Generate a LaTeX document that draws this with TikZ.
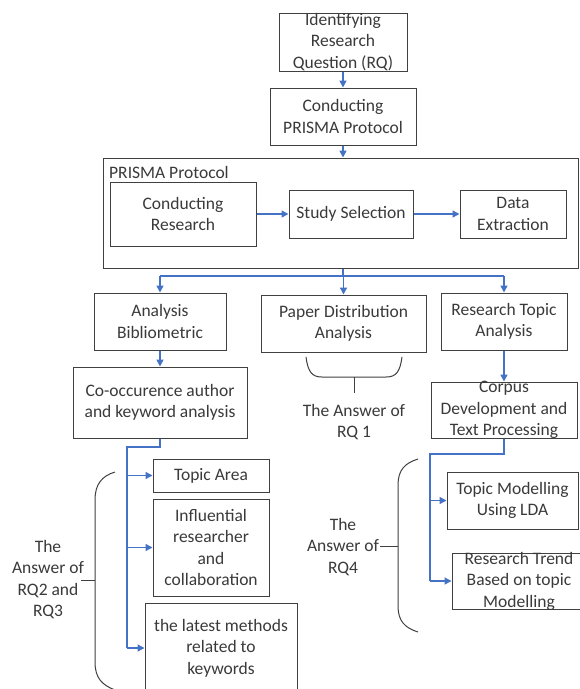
\documentclass[tikz,border=0pt]{standalone}
\usepackage{fontspec}
\setmainfont{Carlito}
\usetikzlibrary{arrows.meta}
\definecolor{arrowblue}{HTML}{4472C4}
\definecolor{boxgray}{HTML}{404040}
\definecolor{txtgray}{HTML}{3A3A3A}
\tikzset{
  box/.style={draw=boxgray, line width=1pt, inner sep=0pt, minimum width=#1},
  lab/.style={align=center, text=txtgray, font=\fontsize{17.5}{21.5}\selectfont, inner sep=0pt},
  flow/.style={draw=arrowblue, line width=1.4pt},
  arr/.style={flow, -{Triangle[length=7pt,width=7pt]}},
  brace/.style={draw=boxgray, line width=1pt}
}
\begin{document}
\begin{tikzpicture}[x=1pt,y=-1pt]
\useasboundingbox[fill=white] (0,0) rectangle (580,689);

% top boxes
\node[box=128, minimum height=58] (idrq) at (343,42) {};
\node[lab] at (idrq.center) {Identifying\\Research\\Question (RQ)};
\node[box=146, minimum height=57] (cpp) at (343,116.5) {};
\node[lab] at (cpp.center) {Conducting\\PRISMA Protocol};

% PRISMA protocol group
\node[box=475, minimum height=110] (prisma) at (340.5,213) {};
\node[lab, anchor=west] (plabel) at (109,172) {PRISMA Protocol};
\node[box=146, minimum height=64] (cr) at (183,214) {};
\node[lab] at (cr.center) {Conducting\\Research};
\node[box=124, minimum height=48] (ss) at (351,214) {};
\node[lab] at (ss.center) {Study Selection};
\node[box=106, minimum height=48] (de) at (513,214) {};
\node[lab] at (de.center) {Data\\Extraction};

% second level
\node[box=132, minimum height=57] (ab) at (160,321.5) {};
\node[lab] at (ab.center) {Analysis\\Bibliometric};
\node[box=165, minimum height=57] (pda) at (343.5,323.5) {};
\node[lab] at (pda.center) {Paper Distribution\\Analysis};
\node[box=126, minimum height=57] (rta) at (504,321.5) {};
\node[lab] at (rta.center) {Research Topic\\Analysis};

\node[box=174, minimum height=71] (coo) at (160,402.5) {};
\node[lab] at (coo.center) {Co-occurence author\\and keyword analysis};
\node[box=146, minimum height=56] (corpus) at (504,410) {};
\node[lab] at (corpus.center) {Corpus\\Development and\\Text Processing};

% RQ1 answer
\node[lab] (rq1) at (354,422) {The Answer of\\RQ 1};
\coordinate (b1) at (354,377);
\draw[brace] (306,357) .. controls (308,372) and (312,377) .. (322,377) -- (386,377) .. controls (396,377) and (400,372) .. (402,357);
\draw[brace] (b1) -- (354,393);

% left column
\node[box=116, minimum height=33] (ta) at (211,475.5) {};
\node[lab] at (ta.center) {Topic Area};
\node[box=116, minimum height=97] (inf) at (211,547.5) {};
\node[lab] at (inf.center) {Influential\\researcher\\and\\collaboration};
\node[box=152, minimum height=90] (lm) at (221,648) {};
\node[lab] at (lm.center) {the latest methods\\related to\\keywords};

\node[lab] (rq23) at (48,579.5) {The\\Answer of\\RQ2 and\\RQ3};
\draw[brace] (115,472) .. controls (102,476) and (95,484) .. (95,500) -- (95,662) .. controls (95,678) and (102,685) .. (115,690);
\draw[brace] (95,580) -- (81,580);

% right column
\node[box=131, minimum height=57] (tm) at (512.5,500.5) {};
\node[lab] at (tm.center) {Topic Modelling\\Using LDA};
\node[box=134, minimum height=56] (rt) at (519,581) {};
\node[lab] at (rt.center) {Research Trend\\Based on topic\\Modelling};

\node[lab] (rq4) at (343,547) {The\\Answer of\\RQ4};
\draw[brace] (418,459) .. controls (405,463) and (398,470) .. (398,485) -- (398,606) .. controls (398,621) and (405,628) .. (418,632);
\draw[brace] (398,546) -- (380,546);

% connectors
\draw[arr] (idrq.south) -- (cpp.north);
\draw[arr] (cpp.south) -- (cpp.south |- prisma.north);
\draw[arr] (cr.east) -- (ss.west);
\draw[arr] (ss.east) -- (de.west);

\coordinate (br) at (343,276);
\draw[flow] (br |- prisma.south) -- (br);
\draw[flow] (ab.north |- br) -- (rta.north |- br);
\draw[arr] (ab.north |- br) -- (ab.north);
\draw[arr] (pda.north |- br) -- (pda.north);
\draw[arr] (rta.north |- br) -- (rta.north);

\draw[arr] (ab.south) -- (coo.north);
\draw[arr] (rta.south) -- (corpus.north);

\coordinate (lt) at (127,447);
\draw[flow] (coo.south) -- (coo.south |- lt) -- (lt) -- (lt |- lm.west);
\draw[arr] (lt |- ta.west) -- (ta.west);
\draw[arr] (lt |- inf.west) -- (inf.west);
\draw[arr] (lt |- lm.west) -- (lm.west);

\coordinate (rtc) at (430,454);
\draw[flow] (corpus.south) -- (corpus.south |- rtc) -- (rtc) -- (rtc |- rt.west);
\draw[arr] (rtc |- tm.west) -- (tm.west);
\draw[arr] (rtc |- rt.west) -- (rt.west);
\end{tikzpicture}
\end{document}
